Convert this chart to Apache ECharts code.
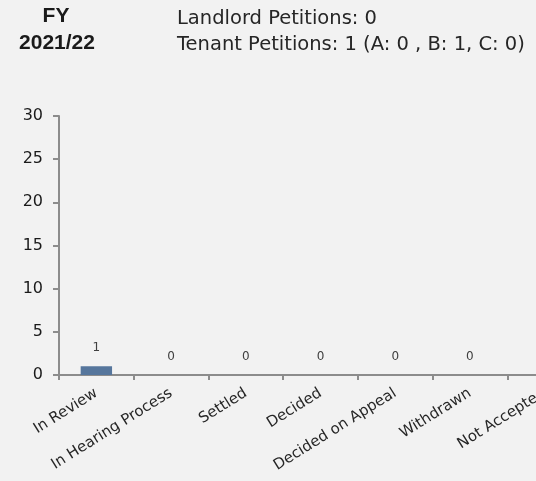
<!DOCTYPE html>
<html><head><meta charset="utf-8">
<script src="https://cdn.jsdelivr.net/npm/echarts@6/dist/echarts.min.js"></script>
<style>html,body{margin:0;padding:0;background:#f2f2f2;overflow:hidden;width:536px;height:481px;}#c{width:600px;height:481px;}</style>
</head><body><div id="c"></div>
<script>
const categories = ["In Review","In Hearing Process","Settled","Decided","Decided on Appeal","Withdrawn","Not Accepted"];
const values = [1,0,0,0,0,0,0];
const yTicks = {min:0, max:30, interval:5};
const headerLeft = ["FY","2021/22"];
const headerRight = ["Landlord Petitions: 0","Tenant Petitions: 1 (A: 0 , B: 1, C: 0)"];

const font = "DejaVu Sans";
const chart = echarts.init(document.getElementById('c'));
chart.setOption({
  backgroundColor:'#f2f2f2',
  animation:false,
  graphic:[
    {type:'text',x:56,y:27,style:{text:headerLeft[0],font:'bold 21px "Liberation Sans"',fill:'#1a1a1a',textAlign:'center',textVerticalAlign:'bottom'}},
    {type:'text',x:57,y:54,style:{text:headerLeft[1],font:'bold 21px "Liberation Sans"',fill:'#1a1a1a',textAlign:'center',textVerticalAlign:'bottom'}},
    {type:'text',x:177,y:29,style:{text:headerRight[0],font:'19.5px "'+font+'"',fill:'#262626',textVerticalAlign:'bottom'}},
    {type:'text',x:177,y:55,style:{text:headerRight[1],font:'19.5px "'+font+'"',fill:'#262626',textVerticalAlign:'bottom'}}
  ],
  grid:{left:59,top:116,bottom:106,right:18,containLabel:false},
  xAxis:{type:'category',data:categories,
    axisLine:{lineStyle:{color:'#8c8c8c',width:2}},
    axisTick:{show:true,alignWithLabel:false,length:5,lineStyle:{color:'#8c8c8c',width:2}},
    axisLabel:{rotate:32,interval:0,margin:17,fontFamily:font,fontSize:15,color:'#262626'}},
  yAxis:{type:'value',min:yTicks.min,max:yTicks.max,interval:yTicks.interval,
    splitLine:{show:false},
    axisLine:{show:true,lineStyle:{color:'#8c8c8c',width:2}},
    axisTick:{show:true,length:6,lineStyle:{color:'#8c8c8c',width:2}},
    axisLabel:{fontFamily:font,fontSize:16,color:'#1a1a1a',margin:16}},
  series:[{type:'bar',data:values,barWidth:'42%',itemStyle:{color:'#56769c'},
    label:{show:true,position:'top',distance:12,fontFamily:font,fontSize:12,color:'#404040'}}]
});
</script></body></html>
